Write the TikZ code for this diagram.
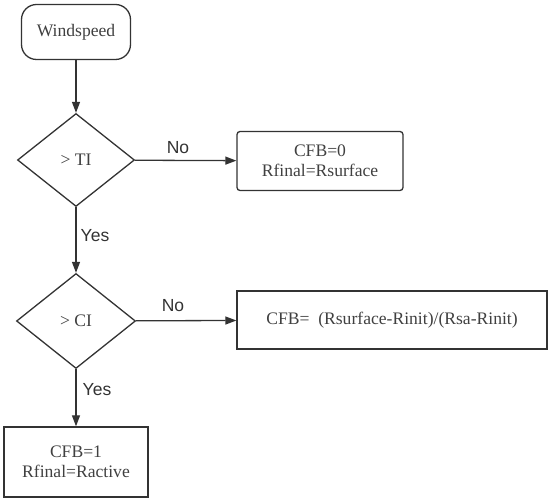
\documentclass[tikz,border=0pt]{standalone}
\usepackage{fontspec}
\setmainfont{Liberation Serif}
\setsansfont{Liberation Sans}
\usetikzlibrary{shapes.geometric,arrows.meta}
\definecolor{ink}{HTML}{333333}
\definecolor{txt}{HTML}{404040}

\begin{document}
\begin{tikzpicture}[
    x=1pt, y=-1pt,
    font=\fontsize{17.6}{20}\selectfont,
    start/.style={rectangle, rounded corners=15pt, draw=ink, line width=1.3pt,
                  minimum width=109pt, minimum height=55pt, text=txt},
    test/.style={diamond, draw=ink, line width=1.3pt, inner sep=0pt,
                 minimum width=117pt, minimum height=93pt, text=txt},
    result/.style={rectangle, draw=ink, line width=1.3pt, align=center,
                   text=txt, inner sep=0pt},
    flow/.style={draw=ink, line width=1.3pt, -{Triangle[length=11pt,width=8pt]}},
    lab/.style={font=\sffamily\fontsize{17.5}{20}\selectfont, text=ink},
]
\useasboundingbox (0,0) rectangle (550,502);

% ---- nodes ----
\node[start] (wind) at (76,32) {Windspeed};
\node[test] (ti) at (76,160) {> TI};
\node[result, rounded corners=3pt, minimum width=166pt, minimum height=59pt]
    (surf) at (320,161) {CFB=0\\Rfinal=Rsurface};
\node[test, minimum height=95pt, minimum width=119pt] (ci) at (76,321) {> CI};
\node[result, minimum width=310pt, minimum height=58pt]
    (mix) at (392,320) {CFB=\ \ (Rsurface-Rinit)/(Rsa-Rinit)};
\node[result, minimum width=144pt, minimum height=70pt]
    (act) at (76,462) {CFB=1\\Rfinal=Ractive};

% ---- connectors ----
\draw[flow] (wind) -- (ti);
\draw[flow] (ti) -- (surf);
\draw[flow] (ti) -- (ci);
\draw[flow] (ci) -- (mix);
\draw[flow] (ci) -- (act);

% ---- labels ----
\node[lab] (no1) at (178,148) {No};
\node[lab] (yes1) at (95,236) {Yes};
\node[lab] (no2) at (173,306) {No};
\node[lab] (yes2) at (97,390) {Yes};
\end{tikzpicture}
\end{document}
